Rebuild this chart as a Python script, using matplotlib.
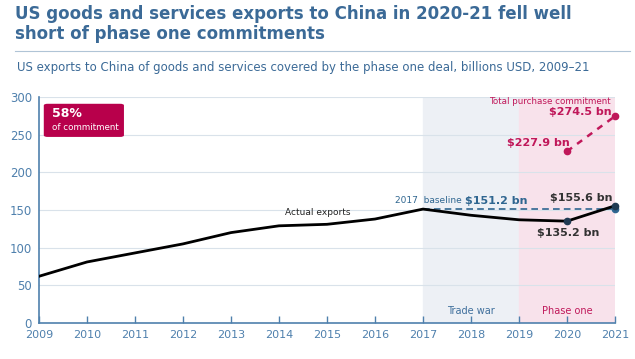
import numpy as np
import matplotlib.pyplot as plt
import matplotlib as mpl
from matplotlib.patches import FancyBboxPatch

years = [2009, 2010, 2011, 2012, 2013, 2014, 2015, 2016, 2017, 2018, 2019, 2020, 2021]
exports = [62, 81, 93, 105, 120, 129, 131, 138, 151.2, 143, 137, 135.2, 155.6]
commit_years = [2020, 2021]
commitment = [227.9, 274.5]
baseline = 151.2
y_ticks = [0, 50, 100, 150, 200, 250, 300]

BLUE = '#3f6f9c'
AXBLUE = '#4f80ad'
MAGENTA = '#c0185a'
DARK = '#222222'

mpl.rcParams['font.family'] = ['DejaVu Sans']

fig = plt.figure(figsize=(6.35, 3.59), dpi=100)
ax = fig.add_axes([0.0614, 0.1003, 0.9071, 0.6295])

# shaded periods
ax.axvspan(2017, 2019, color='#edf0f5', zorder=0)
ax.axvspan(2019, 2021, color='#f8e2eb', zorder=0)

for y in y_ticks[1:]:
    ax.axhline(y, color='#d9e2ea', lw=0.8, zorder=1)

# baseline
ax.plot([2017, 2021], [baseline, baseline], color='#2f6690', lw=1.2, ls=(0, (4, 2.5)), zorder=2)
ax.plot([2021], [baseline], 'o', color='#2f6690', ms=4.5, zorder=4, clip_on=False)

# actual exports
ax.plot(years, exports, color='black', lw=2, zorder=3)
ax.plot([2020, 2021], [exports[-2], exports[-1]], 'o', color='#1f3a52', ms=4.5, zorder=4, clip_on=False)

# commitment
ax.plot(commit_years, commitment, color=MAGENTA, lw=1.8, ls=(0, (2.5, 2.5)), zorder=3)
ax.plot(commit_years, commitment, 'o', color=MAGENTA, ms=4.5, zorder=4, clip_on=False)

ax.set_xlim(2009, 2021)
ax.set_ylim(0, 300)
ax.set_xticks(years)
ax.set_xticklabels([str(y) for y in years], fontsize=8, color=AXBLUE)
ax.set_yticks(y_ticks)
ax.set_yticklabels([str(y) for y in y_ticks], fontsize=8.5, color=AXBLUE)
ax.tick_params(axis='x', direction='in', length=5, width=1, color=AXBLUE, pad=5)
ax.tick_params(axis='y', length=0, pad=5)
for s in ['top', 'right']:
    ax.spines[s].set_visible(False)
ax.spines['left'].set_color(AXBLUE)
ax.spines['bottom'].set_color(AXBLUE)
ax.spines['left'].set_linewidth(1.2)
ax.spines['bottom'].set_linewidth(1.2)

# annotations
ax.text(2014.8, 147, 'Actual exports', fontsize=6.5, color=DARK, ha='center', va='center')
ax.text(2017.8, 162, '2017  baseline', fontsize=6.5, color='#2f6690', ha='right', va='center')
ax.text(2017.87, 162, '$151.2 bn', fontsize=8, color='#2f6690', ha='left', va='center', weight='bold')
ax.text(2020.94, 166, '$155.6 bn', fontsize=8, color='#333333', ha='right', va='center', weight='bold')
ax.text(2020.02, 119, '$135.2 bn', fontsize=8, color='#333333', ha='center', va='center', weight='bold')
ax.text(2020.06, 239, '$227.9 bn', fontsize=8, color=MAGENTA, ha='right', va='center', weight='bold')
ax.text(2020.94, 280, '$274.5 bn', fontsize=8, color=MAGENTA, ha='right', va='center', weight='bold')
ax.text(2020.9, 293.5, 'Total purchase commitment', fontsize=6.3, color=MAGENTA, ha='right', va='center')
ax.text(2018, 16, 'Trade war', fontsize=7, color='#3f6f9c', ha='center', va='center')
ax.text(2020, 16, 'Phase one', fontsize=7, color=MAGENTA, ha='center', va='center')

# 58% box
box = FancyBboxPatch((2009.1, 247), 1.67, 44, boxstyle='round,pad=0,rounding_size=0.08',
                     transform=ax.transData, facecolor='#b8004b', edgecolor='none', zorder=5,
                     mutation_aspect=25)
ax.add_patch(box)
ax.text(2009.27, 278, '58%', fontsize=9, color='white', weight='bold', va='center', zorder=6)
ax.text(2009.27, 260, 'of commitment', fontsize=6.3, color='white', va='center', zorder=6)

# titles
fig.text(0.024, 0.985, 'US goods and services exports to China in 2020-21 fell well\nshort of phase one commitments',
         fontsize=12, weight='bold', color='#3b6a97', va='top', ha='left', linespacing=1.15)
fig.add_artist(plt.Line2D([0.024, 0.992], [0.858, 0.858], color='#b0c4d6', lw=0.8))
fig.text(0.027, 0.813, 'US exports to China of goods and services covered by the phase one deal, billions USD, 2009\u201321',
         fontsize=8.5, color='#3b6a97', va='center', ha='left')

plt.savefig('out.png', dpi=100)
